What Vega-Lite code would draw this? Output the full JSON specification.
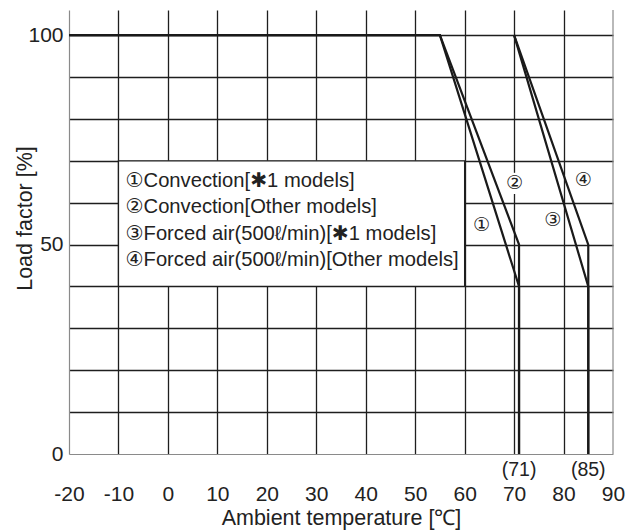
{
  "$schema": "https://vega.github.io/schema/vega-lite/v6.json",
  "width": 544,
  "height": 444,
  "autosize": {"type": "none"},
  "padding": {"left": 69, "top": 10, "right": 24, "bottom": 78},
  "background": "white",
  "config": {
    "view": {"stroke": null},
    "font": "Liberation Sans, Arial, DejaVu Sans",
    "axis": {
      "ticks": false,
      "domainColor": "#8a8a8a",
      "domainWidth": 1.2,
      "gridColor": "#1e1e1e",
      "gridWidth": 1.3,
      "labelFont": "Liberation Sans",
      "labelFontSize": 21,
      "labelColor": "#222",
      "labelOverlap": false,
      "labelFlush": false,
      "labelBound": false,
      "titleFont": "Liberation Sans",
      "titleFontSize": 21.5,
      "titleFontWeight": "normal",
      "titleColor": "#222"
    }
  },
  "datasets": {
    "curves": [
      {"series": "1", "i": 0, "temp": -20, "load": 100},
      {"series": "1", "i": 1, "temp": 55, "load": 100},
      {"series": "1", "i": 2, "temp": 71, "load": 40},
      {"series": "1", "i": 3, "temp": 71, "load": 0},
      {"series": "2", "i": 0, "temp": -20, "load": 100},
      {"series": "2", "i": 1, "temp": 55, "load": 100},
      {"series": "2", "i": 2, "temp": 71, "load": 50},
      {"series": "2", "i": 3, "temp": 71, "load": 0},
      {"series": "3", "i": 0, "temp": 70, "load": 100},
      {"series": "3", "i": 1, "temp": 85, "load": 40},
      {"series": "3", "i": 2, "temp": 85, "load": 0},
      {"series": "4", "i": 0, "temp": 70, "load": 100},
      {"series": "4", "i": 1, "temp": 85, "load": 50},
      {"series": "4", "i": 2, "temp": 85, "load": 0}
    ],
    "legendbox": [{"x1": -10, "x2": 60, "y1": 40, "y2": 70}],
    "legendtext": [
      {"x": -10, "y": 65.2, "label": "①Convection[✱1 models]"},
      {"x": -10, "y": 58.9, "label": "②Convection[Other models]"},
      {"x": -10, "y": 52.5, "label": "③Forced air(500ℓ/min)[✱1 models]"},
      {"x": -10, "y": 46.2, "label": "④Forced air(500ℓ/min)[Other models]"}
    ],
    "markers": [
      {"x": 63.4, "y": 54.6, "label": "①"},
      {"x": 70.1, "y": 64.6, "label": "②"},
      {"x": 77.8, "y": 55.8, "label": "③"},
      {"x": 84.0, "y": 65.3, "label": "④"}
    ],
    "limits": [
      {"x": 71, "y": 0, "label": "(71)"},
      {"x": 85, "y": 0, "label": "(85)"}
    ],
    "border": [{"x": 90}]
  },
  "layer": [
    {
      "data": {"name": "legendbox"},
      "mark": {"type": "rect", "fill": "white", "stroke": "#1e1e1e", "strokeWidth": 1.3},
      "encoding": {
        "x": {
          "field": "x1", "type": "quantitative",
          "scale": {"domain": [-20, 90], "nice": false, "zero": false},
          "axis": {
            "values": [-20, -10, 0, 10, 20, 30, 40, 50, 60, 70, 80, 90],
            "labelExpr": "'' + datum.value",
            "labelPadding": 29,
            "title": "Ambient temperature [℃]",
            "titlePadding": 3,
            "gridOpacity": {"condition": {"test": "datum.value === -20 || datum.value === 90", "value": 0}, "value": 1}
          }
        },
        "x2": {"field": "x2"},
        "y": {
          "field": "y1", "type": "quantitative",
          "scale": {"domain": [0, 106], "nice": false},
          "axis": {
            "values": [0, 10, 20, 30, 40, 50, 60, 70, 80, 90, 100],
            "labelExpr": "datum.value % 50 === 0 ? datum.label : ''",
            "labelPadding": 6,
            "title": "Load factor [%]",
            "titleX": -33,
            "titleY": 208,
            "gridOpacity": {"condition": {"test": "datum.value === 0", "value": 0}, "value": 1}
          }
        },
        "y2": {"field": "y2"}
      }
    },
    {
      "data": {"name": "border"},
      "mark": {"type": "rule", "color": "#8a8a8a", "strokeWidth": 1.2},
      "encoding": {"x": {"field": "x", "type": "quantitative"}}
    },
    {
      "data": {"name": "curves"},
      "mark": {"type": "line", "color": "#1a1a1a", "strokeWidth": 2.2},
      "encoding": {
        "x": {"field": "temp", "type": "quantitative"},
        "y": {"field": "load", "type": "quantitative"},
        "detail": {"field": "series"},
        "order": {"field": "i"}
      }
    },
    {
      "data": {"name": "markers"},
      "mark": {"type": "point", "shape": "square", "filled": true, "color": "white", "opacity": 1, "size": 450},
      "transform": [{"filter": "datum.label === '②'"}],
      "encoding": {
        "x": {"field": "x", "type": "quantitative"},
        "y": {"field": "y", "type": "quantitative"}
      }
    },
    {
      "data": {"name": "markers"},
      "mark": {"type": "text", "fontSize": 19, "color": "#222", "baseline": "middle", "align": "center"},
      "encoding": {
        "x": {"field": "x", "type": "quantitative"},
        "y": {"field": "y", "type": "quantitative"},
        "text": {"field": "label"}
      }
    },
    {
      "data": {"name": "legendtext"},
      "mark": {"type": "text", "fontSize": 20.2, "color": "#222", "baseline": "middle", "align": "left", "dx": 7},
      "encoding": {
        "x": {"field": "x", "type": "quantitative"},
        "y": {"field": "y", "type": "quantitative"},
        "text": {"field": "label"}
      }
    },
    {
      "data": {"name": "limits"},
      "mark": {"type": "text", "fontSize": 19.5, "color": "#222", "baseline": "middle", "align": "center", "dy": 16},
      "encoding": {
        "x": {"field": "x", "type": "quantitative"},
        "y": {"field": "y", "type": "quantitative"},
        "text": {"field": "label"}
      }
    }
  ]
}
